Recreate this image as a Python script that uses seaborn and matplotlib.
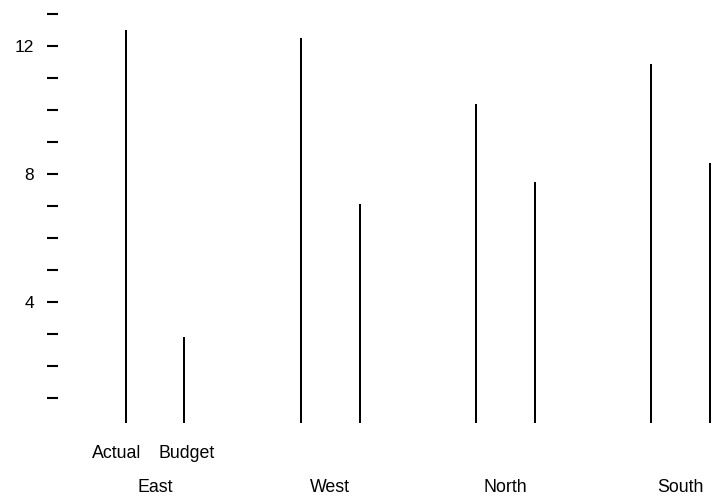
import matplotlib
matplotlib.use("Agg")
import matplotlib.pyplot as plt
import matplotlib.transforms as mtransforms
import seaborn as sns
import pandas as pd

regions = ["East", "West", "North", "South"]
series = ["Actual", "Budget"]
actual = [12.5, 12.25, 10.2, 11.45]
budget = [2.9, 7.05, 7.75, 8.35]
y_ticks = list(range(1, 14))
y_tick_labels = ["" if t % 4 else str(t) for t in y_ticks]

df = pd.DataFrame({
    "region": regions * 2,
    "type": ["Actual"] * len(regions) + ["Budget"] * len(regions),
    "value": actual + budget,
})

sns.set_style("white")
plt.rcParams["font.family"] = ["Liberation Sans", "DejaVu Sans"]
plt.rcParams["text.color"] = "black"

W, H = 718, 498
fig = plt.figure(figsize=(W / 100, H / 100), dpi=100)
left_px, right_px, top_px, bottom_px = 58, 718, 4.4, 423
ax = fig.add_axes([left_px / W, 1 - bottom_px / H, (right_px - left_px) / W, (bottom_px - top_px) / H])

sns.barplot(data=df, x="region", y="value", hue="type", order=regions, hue_order=series,
            width=0.668, dodge=True, palette=["black", "black"], legend=False, ax=ax,
            errorbar=None)

thin = 0.0115
for p in ax.patches:
    cx = p.get_x() + p.get_width() / 2
    p.set_width(thin)
    p.set_x(cx - thin / 2)
    p.set_linewidth(0)
    p.set_facecolor("black")

ax.set_xlim(-0.555, 3.214)
ax.set_ylim(0.219, 13.3)
for s in ax.spines.values():
    s.set_visible(False)

ax.set_yticks(y_ticks)
ax.set_yticklabels(y_tick_labels)
ax.tick_params(axis="y", left=True, length=7.9, width=1.5, pad=9.2, labelsize=12.5,
               color="black", labelcolor="black")
ax.set_xticks([])
ax.set_xlabel("")
ax.set_ylabel("")

fs = 12.8
trans = mtransforms.blended_transform_factory(ax.transData, fig.transFigure)
ax.text(-0.218, 1 - 453 / H, "Actual", transform=trans, ha="center", va="center", fontsize=fs, color="black")
ax.text(0.18, 1 - 453 / H, "Budget", transform=trans, ha="center", va="center", fontsize=fs, color="black")
for i, r in enumerate(regions):
    ax.text(i, 1 - 487 / H, r, transform=trans, ha="center", va="center", fontsize=fs, color="black")

fig.savefig("out.png", dpi=100)
